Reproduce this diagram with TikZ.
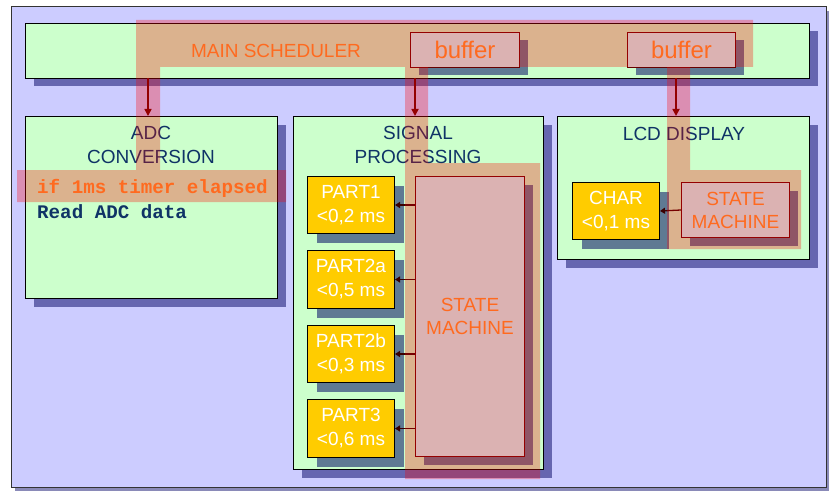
\documentclass[tikz,border=0pt]{standalone}
\usepackage{fontspec}
\setmainfont{Liberation Sans}
\newfontfamily\codefont{Liberation Mono}
\usetikzlibrary{shadows,arrows.meta}

\definecolor{lavender}{HTML}{CCCCFF}
\definecolor{mint}{HTML}{CCFFCC}
\definecolor{paleaqua}{HTML}{CCFFFF}
\definecolor{boxshadow}{HTML}{6666B0}
\definecolor{slate}{HTML}{5F7A93}
\definecolor{framegray}{HTML}{8A8AB8}
\definecolor{gold}{HTML}{FFCC00}
\definecolor{navy}{HTML}{0F3366}
\definecolor{tangerine}{HTML}{FF6A1F}
\definecolor{maroon}{HTML}{660000}
\definecolor{darkarrow}{HTML}{3A0000}

\tikzset{
  panel/.style={draw=black, line width=1pt, fill=mint, anchor=north west, inner sep=0pt,
    general shadow={fill=boxshadow, shadow xshift=8pt, shadow yshift=-8pt}},
  taskbox/.style={draw=black, line width=1pt, fill=gold, anchor=north west, inner sep=0pt,
    minimum width=87pt, minimum height=57pt,
    general shadow={fill=slate, shadow xshift=9pt, shadow yshift=-9pt}},
  membox/.style={draw=maroon, line width=1pt, fill=paleaqua, anchor=north west, inner sep=0pt,
    general shadow={fill=slate, shadow xshift=8pt, shadow yshift=-8pt}},
  title/.style={text=navy, align=center, font=\fontsize{19}{24}\selectfont},
  hot/.style={text=tangerine, align=center, font=\fontsize{19}{23}\selectfont},
  tasktext/.style={text=white, align=center, font=\fontsize{19}{24}\selectfont},
  code/.style={anchor=west, inner sep=0pt, font=\codefont\bfseries\fontsize{19.2}{23}\selectfont},
  feed/.style={draw=maroon, line width=1.6pt, -{Triangle[length=7pt,width=7pt]}},
  call/.style={draw=darkarrow, line width=1.3pt, -{Triangle[length=5pt,width=6pt]}},
  path highlight/.style={fill=red, fill opacity=0.3},
}

\begin{document}
\begin{tikzpicture}[x=1pt, y=-1pt]
  \useasboundingbox (0,0) rectangle (829,492);
  \fill[white] (0,0) rectangle (829,492);

  % outer frame
  \fill[framegray] (15,11) rectangle (829,491);
  \filldraw[fill=lavender, draw=black!80, line width=1pt] (11,7) rectangle (826,487);

  % scheduler bar and the three task panels
  \node[panel, minimum width=784pt, minimum height=55pt] (sched) at (25,23) {};
  \node[panel, minimum width=252pt, minimum height=182pt] (adc) at (25,116) {};
  \node[panel, minimum width=250pt, minimum height=353pt] (sig) at (293,116) {};
  \node[panel, minimum width=252pt, minimum height=143pt] (lcd) at (557,116) {};

  % buffers inside the scheduler
  \node[membox, minimum width=109pt, minimum height=35pt] (buf1) at (410,32) {};
  \node[membox, minimum width=108pt, minimum height=35pt] (buf2) at (627,32) {};

  % signal processing parts
  \node[taskbox] (p1)  at (307,176) {};
  \node[taskbox, minimum height=58pt] (p2a) at (307,250) {};
  \node[taskbox] (p2b) at (307,325) {};
  \node[taskbox, minimum height=58pt] (p3)  at (307,399) {};
  \node[membox, minimum width=109pt, minimum height=280pt] (smsig) at (415,176) {};

  % LCD parts
  \node[taskbox] (char) at (572,182) {};
  \node[membox, minimum width=108pt, minimum height=55pt] (smlcd) at (681,182) {};

  % panel titles
  \node[title] (adct) at (151,145) {ADC\\CONVERSION};
  \node[title] (sigt) at (418,145) {SIGNAL\\PROCESSING};
  \node[title] (lcdt) at (684,134) {LCD DISPLAY};

  % scheduler feeds
  \coordinate (f1) at (148,78);
  \coordinate (f2) at (415,78);
  \coordinate (f3) at (676,78);
  \draw[feed] (f1) -- (f1 |- adc.north);
  \draw[feed] (f2) -- (f2 |- sig.north);
  \draw[feed] (f3) -- (f3 |- lcd.north);

  % state machine calls
  \draw[call] (smsig.west |- p1.east) -- (p1.east);
  \draw[call] (smsig.west |- p2a.east) -- (p2a.east);
  \draw[call] (smsig.west |- p2b.east) -- (p2b.east);
  \draw[call] (smsig.west |- p3.east) -- (p3.east);
  \draw[call] (smlcd.west) -- (char.east);

  % highlighted execution path
  \fill[path highlight]
    (136,20) rectangle (753,67)
    (136,67) rectangle (160,170)
    (17,170) rectangle (286,202)
    (405,67) rectangle (428,163)
    (405,163) rectangle (540,479)
    (667,67) rectangle (690,170)
    (667,170) rectangle (801,249);

  % labels
  \node[hot] (schedt) at (276,51) {MAIN SCHEDULER};
  \node[hot, font=\fontsize{24}{28}\selectfont] at (buf1.center) {buffer};
  \node[hot, font=\fontsize{24}{28}\selectfont] at (buf2.center) {buffer};
  \node[hot] at (smsig.center) {STATE\\MACHINE};
  \node[hot] at (smlcd.center) {STATE\\MACHINE};

  \node[tasktext] at (p1.center)  {PART1\\<0,2 ms};
  \node[tasktext] at (p2a.center) {PART2a\\<0,5 ms};
  \node[tasktext] at (p2b.center) {PART2b\\<0,3 ms};
  \node[tasktext] at (p3.center)  {PART3\\<0,6 ms};
  \node[tasktext] at (char.center) {CHAR\\<0,1 ms};

  \node[code, text=tangerine] (c1) at (37,188) {if 1ms timer elapsed};
  \node[code, text=navy] (c2) at (37,212) {Read ADC data};
\end{tikzpicture}
\end{document}
